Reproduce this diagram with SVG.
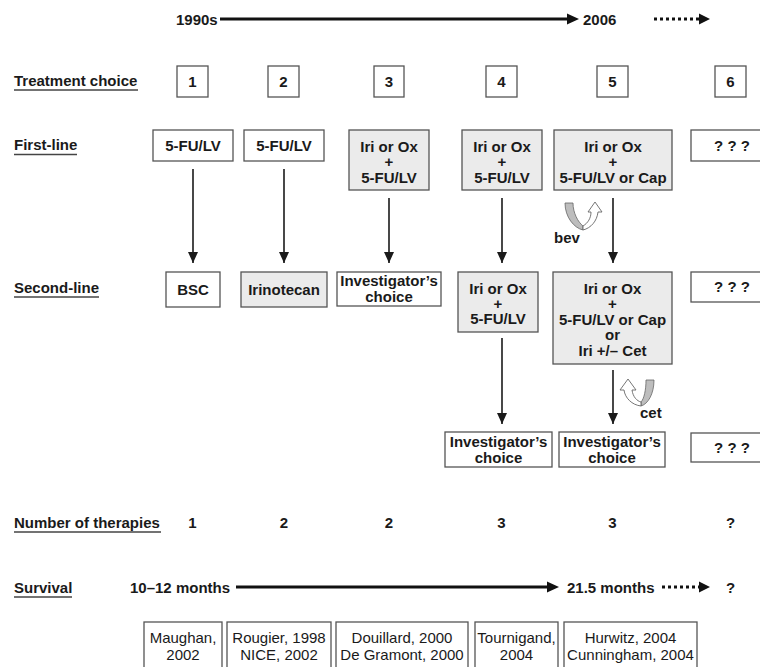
<svg xmlns="http://www.w3.org/2000/svg" width="760" height="667" viewBox="0 0 760 667">
<style>
text{font-family:"Liberation Sans",Arial,sans-serif;font-size:15px;fill:#1a1a1a}
.b{font-weight:bold}
.c{text-anchor:middle}
.box{fill:#fff;stroke:#555;stroke-width:1.3}
.g{fill:#ebebeb;stroke:#555;stroke-width:1.3}
.ul{stroke:#444;stroke-width:1.3}
.v{stroke:#1a1a1a;stroke-width:1.6;fill:none}
.thick{stroke:#111;stroke-width:3;fill:none}
.dot{stroke:#111;stroke-width:3;stroke-dasharray:3 3;fill:none}
.band{fill:#bdbdbd;stroke:#666;stroke-width:0.8}
.arm{fill:#fff;stroke:#666;stroke-width:0.9}
</style>
<defs>
<marker id="ah" markerUnits="userSpaceOnUse" markerWidth="11" markerHeight="10" refX="11" refY="5" orient="auto" viewBox="0 0 11 10">
<path d="M0,0 L11,5 L0,10 Z" fill="#1a1a1a"/>
</marker>
</defs>

<g id="timeline-top">
<text class="b" x="176" y="25">1990s</text>
<line class="thick" x1="220" y1="19" x2="569" y2="19"/>
<polygon points="567,13.5 579,19 567,24.5" fill="#111"/>
<text class="b" x="583" y="25">2006</text>
<line class="dot" x1="654" y1="19" x2="700" y2="19"/>
<polygon points="699,13.5 710,19 699,24.5" fill="#111"/>
</g>

<g id="row-labels">
<text class="b" x="14" y="86">Treatment choice</text>
<line class="ul" x1="14" y1="90" x2="138" y2="90"/>
<text class="b" x="14" y="150">First-line</text>
<line class="ul" x1="14" y1="154.5" x2="77" y2="154.5"/>
<text class="b" x="14" y="293">Second-line</text>
<line class="ul" x1="14" y1="297" x2="99" y2="297"/>
<text class="b" x="14" y="528">Number of therapies</text>
<line class="ul" x1="14" y1="532" x2="161" y2="532"/>
<text class="b" x="14" y="593">Survival</text>
<line class="ul" x1="14" y1="597" x2="72" y2="597"/>
</g>

<g id="choice-1"><rect class="box" x="177" y="66" width="31" height="31"/><text class="b c" x="192.5" y="87">1</text></g>
<g id="choice-2"><rect class="box" x="268" y="66" width="31" height="31"/><text class="b c" x="283.5" y="87">2</text></g>
<g id="choice-3"><rect class="box" x="374" y="66" width="30" height="31"/><text class="b c" x="389" y="87">3</text></g>
<g id="choice-4"><rect class="box" x="486" y="66" width="31" height="31"/><text class="b c" x="501.5" y="87">4</text></g>
<g id="choice-5"><rect class="box" x="597" y="66" width="31" height="31"/><text class="b c" x="612.5" y="87">5</text></g>
<g id="choice-6"><rect class="box" x="715" y="66" width="31" height="31"/><text class="b c" x="730.5" y="87">6</text></g>

<g id="first-1"><rect class="box" x="153" y="130" width="80" height="31"/><text class="b c" x="193" y="151">5-FU/LV</text></g>
<g id="first-2"><rect class="box" x="244" y="130" width="80" height="31"/><text class="b c" x="284" y="151">5-FU/LV</text></g>
<g id="first-3"><rect class="g" x="349" y="130" width="80" height="60"/>
<text class="b c"><tspan x="389" y="152">Iri or Ox</tspan><tspan x="389" y="167">+</tspan><tspan x="389" y="183">5-FU/LV</tspan></text></g>
<g id="first-4"><rect class="g" x="462" y="130" width="80" height="60"/>
<text class="b c"><tspan x="502" y="152">Iri or Ox</tspan><tspan x="502" y="167">+</tspan><tspan x="502" y="183">5-FU/LV</tspan></text></g>
<g id="first-5"><rect class="g" x="554" y="130" width="118" height="60"/>
<text class="b c"><tspan x="613" y="152">Iri or Ox</tspan><tspan x="613" y="167">+</tspan><tspan x="613" y="183">5-FU/LV or Cap</tspan></text></g>
<g id="first-6"><rect class="box" x="691" y="130" width="80" height="31"/><text class="b c" x="732" y="151">? ? ?</text></g>

<g id="second-1"><rect class="box" x="166" y="272" width="54" height="35"/><text class="b c" x="193" y="295">BSC</text></g>
<g id="second-2"><rect class="g" x="241" y="272" width="86" height="35"/><text class="b c" x="284" y="295">Irinotecan</text></g>
<g id="second-3"><rect class="box" x="337" y="272" width="104" height="34"/>
<text class="b c"><tspan x="389" y="286">Investigator’s</tspan><tspan x="389" y="302">choice</tspan></text></g>
<g id="second-4"><rect class="g" x="458" y="272" width="80" height="60"/>
<text class="b c"><tspan x="498" y="294">Iri or Ox</tspan><tspan x="498" y="309">+</tspan><tspan x="498" y="324">5-FU/LV</tspan></text></g>
<g id="second-5"><rect class="g" x="553" y="272" width="119" height="92"/>
<text class="b c"><tspan x="612.5" y="294">Iri or Ox</tspan><tspan x="612.5" y="309">+</tspan><tspan x="612.5" y="325">5-FU/LV or Cap</tspan><tspan x="612.5" y="340">or</tspan><tspan x="612.5" y="356">Iri +/– Cet</tspan></text></g>
<g id="second-6"><rect class="box" x="691" y="272" width="80" height="30"/><text class="b c" x="732" y="292">? ? ?</text></g>

<g id="third-4"><rect class="box" x="445" y="432" width="107" height="35"/>
<text class="b c"><tspan x="498.5" y="447">Investigator’s</tspan><tspan x="498.5" y="463">choice</tspan></text></g>
<g id="third-5"><rect class="box" x="559" y="432" width="106" height="35"/>
<text class="b c"><tspan x="612" y="447">Investigator’s</tspan><tspan x="612" y="463">choice</tspan></text></g>
<g id="third-6"><rect class="box" x="691" y="433" width="80" height="29"/><text class="b c" x="732" y="453">? ? ?</text></g>

<g id="connectors">
<line class="v" x1="193" y1="169" x2="193" y2="263" marker-end="url(#ah)"/>
<line class="v" x1="284" y1="169" x2="284" y2="263" marker-end="url(#ah)"/>
<line class="v" x1="389" y1="198" x2="389" y2="263" marker-end="url(#ah)"/>
<line class="v" x1="502" y1="198" x2="502" y2="263" marker-end="url(#ah)"/>
<line class="v" x1="613" y1="198" x2="613" y2="263" marker-end="url(#ah)"/>
<line class="v" x1="502" y1="338" x2="502" y2="424" marker-end="url(#ah)"/>
<line class="v" x1="613" y1="370" x2="613" y2="424" marker-end="url(#ah)"/>
</g>

<g id="bev">
<path class="band" d="M565,203 C565,217 574,228 583,230 L583,226 C578,222 573,213 573,203 Z"/>
<path class="arm" d="M595,202 L602,212 L598,212 C597,221 591,228 583,230 L583,226 C588,223 591,218 591,212 L588,212 Z"/>
<text class="b" x="554" y="243">bev</text>
</g>

<g id="cet">
<path class="band" d="M654,380 C654,394 648,404 641,406 L641,402 C644,399 646,390 646,380 Z"/>
<path class="arm" d="M628,379 L636,390 L632,390 C633,397 637,401 641,402 L641,406 C632,405 625,398 624,390 L620,390 Z"/>
<text class="b" x="640" y="418">cet</text>
</g>

<g id="therapies">
<text class="b c" x="192.5" y="528">1</text>
<text class="b c" x="284" y="528">2</text>
<text class="b c" x="389" y="528">2</text>
<text class="b c" x="501.5" y="528">3</text>
<text class="b c" x="612.5" y="528">3</text>
<text class="b c" x="730.5" y="528">?</text>
</g>

<g id="survival">
<text class="b" x="130" y="593">10–12 months</text>
<line class="thick" x1="236" y1="587" x2="549" y2="587"/>
<polygon points="547,581.5 559,587 547,592.5" fill="#111"/>
<text class="b" x="567" y="593">21.5 months</text>
<line class="dot" x1="662" y1="587" x2="700" y2="587"/>
<polygon points="699,581.5 710,587 699,592.5" fill="#111"/>
<text class="b c" x="730.5" y="593">?</text>
</g>

<g id="ref-1"><rect class="box" x="144" y="622" width="78" height="50"/><text class="c"><tspan x="183" y="643">Maughan,</tspan><tspan x="183" y="660">2002</tspan></text></g>
<g id="ref-2"><rect class="box" x="227" y="622" width="104" height="50"/><text class="c"><tspan x="279" y="643">Rougier, 1998</tspan><tspan x="279" y="660">NICE, 2002</tspan></text></g>
<g id="ref-3"><rect class="box" x="336" y="622" width="132" height="50"/><text class="c"><tspan x="402" y="643">Douillard, 2000</tspan><tspan x="402" y="660">De Gramont, 2000</tspan></text></g>
<g id="ref-4"><rect class="box" x="475" y="622" width="83" height="50"/><text class="c"><tspan x="516.5" y="643">Tournigand,</tspan><tspan x="516.5" y="660">2004</tspan></text></g>
<g id="ref-5"><rect class="box" x="564" y="622" width="133" height="50"/><text class="c"><tspan x="630.5" y="643">Hurwitz, 2004</tspan><tspan x="630.5" y="660">Cunningham, 2004</tspan></text></g>
</svg>
